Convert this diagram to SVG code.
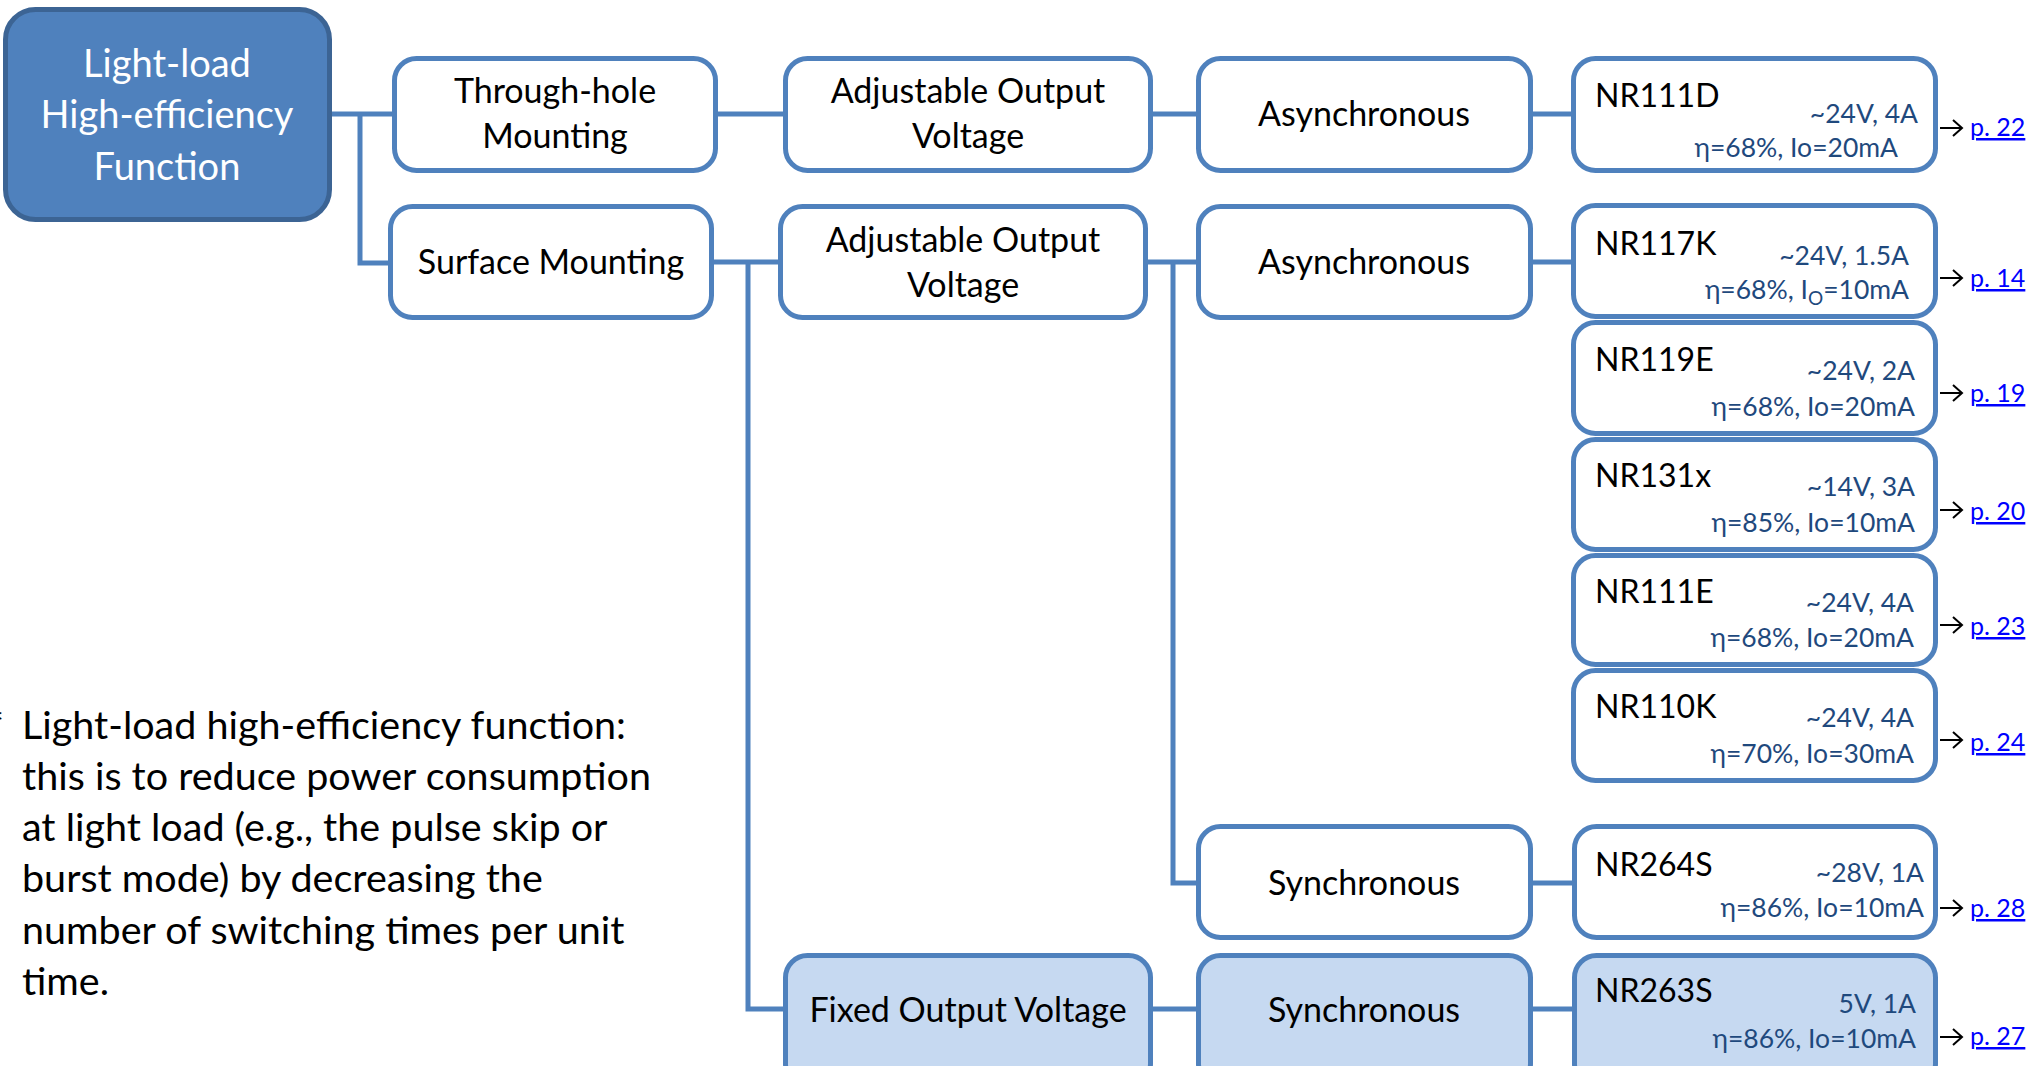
<svg xmlns="http://www.w3.org/2000/svg" width="2028" height="1066" viewBox="0 0 2028 1066">
<defs>
<style>
.bx{fill:#ffffff;stroke:#4F81BD;stroke-width:5}
.bf{fill:#C6D9F1;stroke:#4F81BD;stroke-width:5}
.rt{fill:#4F81BD;stroke:#3C6494;stroke-width:5}
.t{font-family:Lato,"Open Sans",sans-serif;font-size:34px;fill:#000000}
.nr{font-family:Lato,"Open Sans",sans-serif;font-size:32px;fill:#000000}
.tc{text-anchor:middle}
.w{fill:#ffffff;font-size:38px}
.s{font-family:Lato,"Open Sans",sans-serif;font-size:26.5px;fill:#1F497D;text-anchor:end}
.lk{font-family:Lato,"Open Sans",sans-serif;font-size:25px;fill:#0000FF;text-decoration:underline}
.cn{fill:none;stroke:#4F81BD;stroke-width:5}
.ar{fill:none;stroke:#000000;stroke-width:2}
.note{font-family:Lato,"Open Sans",sans-serif;font-size:39.5px;fill:#000000}
</style>
</defs>
<rect width="2028" height="1066" fill="#ffffff"/>

<g id="connectors">
<path class="cn" d="M332,114 H392 M360,114 V263 H388"/>
<path class="cn" d="M718,114 H783"/>
<path class="cn" d="M714,262 H778 M748,262 V1009 H783"/>
<path class="cn" d="M1153,114 H1196"/>
<path class="cn" d="M1148,262 H1196 M1173,262 V883 H1196"/>
<path class="cn" d="M1153,1009 H1196"/>
<path class="cn" d="M1533,114 H1571"/>
<path class="cn" d="M1533,262 H1571"/>
<path class="cn" d="M1533,883 H1572"/>
<path class="cn" d="M1533,1009 H1572"/>
</g>

<g id="root">
<rect class="rt" x="5.5" y="9.5" width="324" height="210" rx="30"/>
<text class="t tc w" x="167" y="77">Light-load</text>
<text class="t tc w" x="167" y="128">High-efficiency</text>
<text class="t tc w" x="167" y="180">Function</text>
</g>

<g id="through-hole">
<rect class="bx" x="394.5" y="58.5" width="321" height="112" rx="22"/>
<text class="t tc" x="555" y="103">Through-hole</text>
<text class="t tc" x="555" y="148">Mounting</text>
</g>
<g id="surface">
<rect class="bx" x="390.5" y="206.5" width="321" height="111" rx="22"/>
<text class="t tc" x="551" y="274">Surface Mounting</text>
</g>

<g id="adj1">
<rect class="bx" x="785.5" y="58.5" width="365" height="112" rx="22"/>
<text class="t tc" x="968" y="103">Adjustable Output</text>
<text class="t tc" x="968" y="148">Voltage</text>
</g>
<g id="adj2">
<rect class="bx" x="780.5" y="206.5" width="365" height="111" rx="22"/>
<text class="t tc" x="963" y="252">Adjustable Output</text>
<text class="t tc" x="963" y="297">Voltage</text>
</g>
<g id="fixed">
<rect class="bf" x="785.5" y="955.5" width="365" height="130" rx="22"/>
<text class="t tc" x="968" y="1022">Fixed Output Voltage</text>
</g>

<g id="async1">
<rect class="bx" x="1198.5" y="58.5" width="332" height="112" rx="22"/>
<text class="t tc" x="1364" y="126">Asynchronous</text>
</g>
<g id="async2">
<rect class="bx" x="1198.5" y="206.5" width="332" height="111" rx="22"/>
<text class="t tc" x="1364" y="274">Asynchronous</text>
</g>
<g id="sync1">
<rect class="bx" x="1198.5" y="826.5" width="332" height="111" rx="22"/>
<text class="t tc" x="1364" y="895">Synchronous</text>
</g>
<g id="sync2">
<rect class="bf" x="1198.5" y="955.5" width="332" height="130" rx="22"/>
<text class="t tc" x="1364" y="1022">Synchronous</text>
</g>

<g id="nr111d">
<rect class="bx" x="1573.5" y="58.5" width="362" height="112" rx="22"/>
<text class="nr" x="1595" y="107">NR111D</text>
<text class="s" x="1918" y="123">~24V, 4A</text>
<text class="s" x="1898" y="157">η=68%, Io=20mA</text>
<path class="ar" d="M1940,128 H1962 M1953,120 L1962,128 L1953,136"/>
<text class="lk" x="1970" y="136">p. 22</text>
</g>
<g id="nr117k">
<rect class="bx" x="1573.5" y="205.5" width="362" height="111" rx="22"/>
<text class="nr" x="1595" y="255">NR117K</text>
<text class="s" x="1909" y="265">~24V, 1.5A</text>
<text class="s" x="1909" y="299">η=68%, I<tspan font-size="19" dy="6">O</tspan><tspan dy="-6">=10mA</tspan></text>
<path class="ar" d="M1940,278 H1962 M1953,270 L1962,278 L1953,286"/>
<text class="lk" x="1970" y="287">p. 14</text>
</g>
<g id="nr119e">
<rect class="bx" x="1573.5" y="322.5" width="362" height="111" rx="22"/>
<text class="nr" x="1595" y="371">NR119E</text>
<text class="s" x="1915" y="380">~24V, 2A</text>
<text class="s" x="1915" y="416">η=68%, Io=20mA</text>
<path class="ar" d="M1940,393 H1962 M1953,385 L1962,393 L1953,401"/>
<text class="lk" x="1970" y="402">p. 19</text>
</g>
<g id="nr131x">
<rect class="bx" x="1573.5" y="439.5" width="362" height="110" rx="22"/>
<text class="nr" x="1595" y="487">NR131x</text>
<text class="s" x="1915" y="496">~14V, 3A</text>
<text class="s" x="1915" y="532">η=85%, Io=10mA</text>
<path class="ar" d="M1940,510 H1962 M1953,502 L1962,510 L1953,518"/>
<text class="lk" x="1970" y="520">p. 20</text>
</g>
<g id="nr111e">
<rect class="bx" x="1573.5" y="555.5" width="362" height="109" rx="22"/>
<text class="nr" x="1595" y="603">NR111E</text>
<text class="s" x="1914" y="612">~24V, 4A</text>
<text class="s" x="1914" y="647">η=68%, Io=20mA</text>
<path class="ar" d="M1940,625 H1962 M1953,617 L1962,625 L1953,633"/>
<text class="lk" x="1970" y="635">p. 23</text>
</g>
<g id="nr110k">
<rect class="bx" x="1573.5" y="670.5" width="362" height="110" rx="22"/>
<text class="nr" x="1595" y="718">NR110K</text>
<text class="s" x="1914" y="727">~24V, 4A</text>
<text class="s" x="1914" y="763">η=70%, Io=30mA</text>
<path class="ar" d="M1940,740 H1962 M1953,732 L1962,740 L1953,748"/>
<text class="lk" x="1970" y="751">p. 24</text>
</g>
<g id="nr264s">
<rect class="bx" x="1574.5" y="826.5" width="361" height="111" rx="22"/>
<text class="nr" x="1595" y="876">NR264S</text>
<text class="s" x="1924" y="882">~28V, 1A</text>
<text class="s" x="1924" y="917">η=86%, Io=10mA</text>
<path class="ar" d="M1940,908 H1962 M1953,900 L1962,908 L1953,916"/>
<text class="lk" x="1970" y="917">p. 28</text>
</g>
<g id="nr263s">
<rect class="bf" x="1574.5" y="955.5" width="361" height="130" rx="22"/>
<text class="nr" x="1595" y="1002">NR263S</text>
<text class="s" x="1916" y="1013">5V, 1A</text>
<text class="s" x="1916" y="1048">η=86%, Io=10mA</text>
<path class="ar" d="M1940,1037 H1962 M1953,1029 L1962,1037 L1953,1045"/>
<text class="lk" x="1970" y="1045">p. 27</text>
</g>

<g id="note">
<text class="note" x="4" y="739" text-anchor="end">*</text>
<text class="note" x="22" y="739">Light-load high-efficiency function:</text>
<text class="note" x="22" y="790">this is to reduce power consumption</text>
<text class="note" x="22" y="841">at light load (e.g., the pulse skip or</text>
<text class="note" x="22" y="892">burst mode) by decreasing the</text>
<text class="note" x="22" y="944">number of switching times per unit</text>
<text class="note" x="22" y="995">time.</text>
</g>
</svg>
